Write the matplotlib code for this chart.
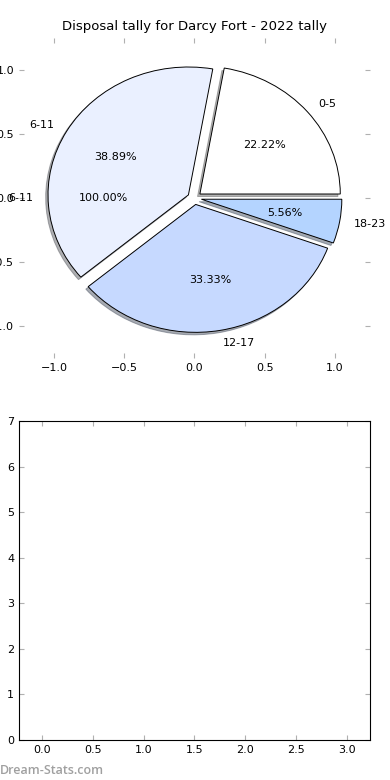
import matplotlib
matplotlib.use("Agg")
import matplotlib.pyplot as plt

hours = ['0-5', '6-11', '12-17', '18-23']
counts = [4, 7, 6, 1]
colours = ['#ffffff', '#eaf0ff', '#c6d9ff', '#b4d4ff']
explode = [0.05, 0.05, 0.05, 0.05]

# second pass with just the busiest block, only its texts show
top_hours = ['6-11']
top_counts = [7]

plt.rcParams['font.size'] = 8
plt.rcParams['xtick.direction'] = 'in'
plt.rcParams['ytick.direction'] = 'in'
plt.rcParams['xtick.top'] = True
plt.rcParams['ytick.right'] = True
plt.rcParams['xtick.color'] = '#b0b0b0'
plt.rcParams['ytick.color'] = '#b0b0b0'
plt.rcParams['xtick.labelcolor'] = 'black'
plt.rcParams['ytick.labelcolor'] = 'black'

fig = plt.figure(figsize=(3.9, 7.8), dpi=100)

ax = fig.add_axes([0.0487, 0.541, 0.9, 0.41])
ax.pie(counts, labels=hours, colors=colours, explode=explode,
       autopct='%.2f%%', shadow={'ox': -0.012, 'oy': -0.014, 'shade': 0.6},
       frame=True,
       wedgeprops={'edgecolor': 'black', 'linewidth': 0.7},
       textprops={'fontsize': 8})
ax.pie(top_counts, labels=top_hours, explode=[0.05], autopct='%.2f%%',
       frame=True, wedgeprops={'visible': False},
       textprops={'fontsize': 8})
ax.set_aspect('auto')
ax.set_xlim(-1.25, 1.25)
ax.set_ylim(-1.25, 1.25)
ax.set_xticks([-1.0, -0.5, 0.0, 0.5, 1.0])
ax.set_yticks([-1.0, -0.5, 0.0, 0.5, 1.0])
ax.set_frame_on(False)
ax.set_title('Disposal tally for Darcy Fort - 2022 tally', fontsize=9.5)

ax2 = fig.add_axes([0.0487, 0.0513, 0.9, 0.409])
ax2.set_xlim(-0.225, 3.225)
ax2.set_ylim(0, 7)
ax2.set_xticks([0.0, 0.5, 1.0, 1.5, 2.0, 2.5, 3.0])
ax2.set_yticks(range(0, 8))

fig.text(0.0, 0.0128, 'Dream-Stats.com', fontsize=9, color='#a0a0a0',
         family='Open Sans', fontweight='semibold', ha='left', va='center')

fig.savefig('out.png', dpi=100)
